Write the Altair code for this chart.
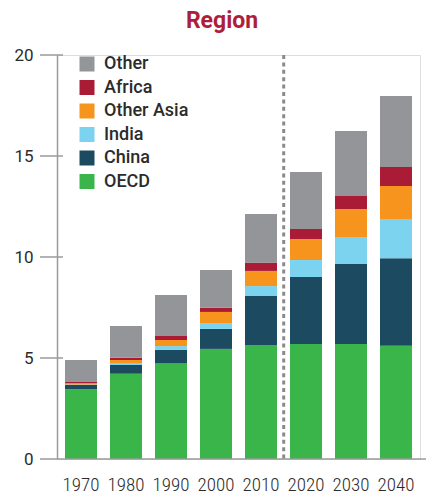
import altair as alt
import pandas as pd

# Energy demand by region (stacked), historical and projected
years = ["1970", "1980", "1990", "2000", "2010", "2020", "2030", "2040"]
oecd = [3.45, 4.22, 4.75, 5.45, 5.64, 5.69, 5.69, 5.61]
china = [0.22, 0.43, 0.65, 0.99, 2.43, 3.32, 3.96, 4.33]
india = [0.02, 0.10, 0.19, 0.29, 0.49, 0.84, 1.34, 1.94]
other_asia = [0.06, 0.15, 0.30, 0.55, 0.75, 1.04, 1.39, 1.63]
africa = [0.06, 0.11, 0.20, 0.21, 0.41, 0.50, 0.64, 0.95]
other = [1.09, 1.57, 2.03, 1.87, 2.41, 2.82, 3.22, 3.51]

regions = ["OECD", "China", "India", "Other Asia", "Africa", "Other"]
series = [oecd, china, india, other_asia, africa, other]
legend_order = ["Other", "Africa", "Other Asia", "India", "China", "OECD"]
colors = ["#939598", "#AA1C35", "#F7941D", "#7BD3F0", "#1C4A60", "#3AB54A"]
y_ticks = [0, 5, 10, 15, 20]

rows = []
for i, (name, vals) in enumerate(zip(regions, series)):
    for yr, v in zip(years, vals):
        rows.append({"year": yr, "region": name, "value": v, "stack": i})
df = pd.DataFrame(rows)

AXIS_GRAY = "#9a9a9a"
TEXT = "#2b2b2b"

x_scale = alt.Scale(domain=years, paddingInner=0.289, paddingOuter=0.178)
y_scale = alt.Scale(domain=[0, 20], nice=False)

bars = alt.Chart(df).mark_bar(strokeWidth=0).encode(
    x=alt.X("year:N", scale=x_scale, sort=years,
            axis=alt.Axis(title=None, domain=False, ticks=False, labelAngle=0,
                          labelFont="Roboto Condensed, Roboto", labelFontSize=19,
                          labelFontWeight=300,
                          labelColor=TEXT, labelPadding=16)),
    y=alt.Y("value:Q", stack="zero", scale=y_scale,
            axis=alt.Axis(title=None, values=y_ticks, grid=False, ticks=False,
                          domainColor=AXIS_GRAY, domainWidth=1.5,
                          labelFont="Roboto", labelFontSize=17, labelColor=TEXT,
                          labelPadding=24)),
    color=alt.Color("region:N",
                    scale=alt.Scale(domain=legend_order, range=colors),
                    legend=alt.Legend(title=None, orient="none", legendX=21, legendY=0,
                                      symbolType="square", symbolSize=225,
                                      symbolStrokeWidth=0, labelFont="Roboto",
                                      labelFontSize=18, labelFontWeight=500,
                                      labelColor=TEXT,
                                      labelOffset=8, rowPadding=5.5, padding=0)),
    order=alt.Order("stack:Q", sort="ascending"),
)

# short tick marks crossing the y axis
ticks = alt.Chart(pd.DataFrame({"v": y_ticks[1:]})).mark_rule(
    color=AXIS_GRAY, strokeWidth=1.5
).encode(y=alt.Y("v:Q", scale=y_scale), x=alt.value(-17), x2=alt.value(6))

# baseline along zero
baseline = alt.Chart(pd.DataFrame({"v": [0]})).mark_rule(
    color=AXIS_GRAY, strokeWidth=1.5
).encode(y=alt.Y("v:Q", scale=y_scale), x=alt.value(-17), x2=alt.value(369))

# divider between historical and projected values
divider = alt.Chart(pd.DataFrame({"v": [20]})).mark_rule(
    color="#8a8a8a", strokeWidth=3, strokeDash=[4, 3.4]
).encode(y=alt.Y("v:Q", scale=y_scale), y2=alt.value(404), x=alt.value(226.7))

title = alt.Chart(pd.DataFrame({"t": ["Region"]})).mark_text(
    font="Roboto", fontSize=23, fontWeight="bold", color="#AE1E3A",
    align="center", baseline="alphabetic"
).encode(text="t:N", x=alt.value(165), y=alt.value(-27))

chart = alt.layer(bars, ticks, baseline, divider, title).properties(
    width=363, height=404,
    autosize=alt.AutoSizeParams(type="none"),
    padding={"left": 57, "top": 55, "right": 6, "bottom": 38},
).configure_view(stroke=None).configure(background="white")

chart.save("out.html", embed_options={"renderer": "svg", "actions": False})
